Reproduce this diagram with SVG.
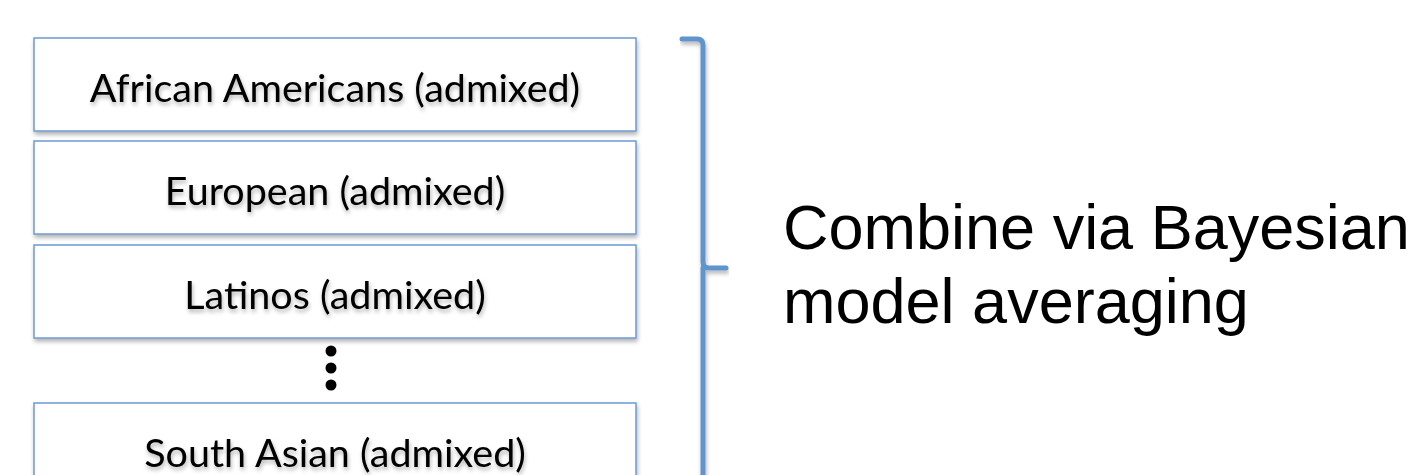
<svg xmlns="http://www.w3.org/2000/svg" width="1417" height="475" viewBox="0 0 1417 475">
<style>
.box{fill:#fff;stroke:#6c9bd2;stroke-width:1.5}
.lbl{font-family:Lato,"Open Sans",sans-serif;font-size:39.5px;fill:#000;text-anchor:middle}
.big{font-family:"Liberation Sans",Arial,sans-serif;font-size:63px;fill:#000}
.br{fill:none;stroke:#5f95cc;stroke-width:5;stroke-linecap:round;stroke-linejoin:round}
</style>
<defs>
<filter id="sh" x="-5%" y="-20%" width="110%" height="150%">
<feGaussianBlur in="SourceAlpha" stdDeviation="2"/>
<feOffset dx="1" dy="3" result="b"/>
<feComponentTransfer><feFuncA type="linear" slope="0.3"/></feComponentTransfer>
<feMerge><feMergeNode/><feMergeNode in="SourceGraphic"/></feMerge>
</filter>
</defs>
<rect width="1417" height="475" fill="#fff"/>
<g id="node-african"><rect class="box" x="34" y="38" width="602" height="93" filter="url(#sh)"/><text class="lbl" x="335" y="102" filter="url(#sh)">African Americans (admixed)</text></g>
<g id="node-european"><rect class="box" x="34" y="141" width="602" height="93" filter="url(#sh)"/><text class="lbl" x="335" y="205" filter="url(#sh)">European (admixed)</text></g>
<g id="node-latinos"><rect class="box" x="34" y="245" width="602" height="93" filter="url(#sh)"/><text class="lbl" x="335" y="309" filter="url(#sh)">Latinos (admixed)</text></g>
<g id="node-dots" fill="#000"><circle cx="331" cy="351" r="5.5"/><circle cx="331" cy="368" r="5.5"/><circle cx="331" cy="385" r="5.5"/></g>
<g id="node-southasian"><rect class="box" x="34" y="403" width="602" height="93" filter="url(#sh)"/><text class="lbl" x="335" y="467" filter="url(#sh)">South Asian (admixed)</text></g>
<g id="connectors"><path class="br" d="M682 39 L697 39 Q703 39 703 45 L703 262 Q703 268 709 268 L726 268 M703 268 L703 480" filter="url(#sh)"/></g>
<g id="node-combine"><text class="big" x="783" y="249">Combine via Bayesian</text><text class="big" x="783" y="323">model averaging</text></g>
</svg>
